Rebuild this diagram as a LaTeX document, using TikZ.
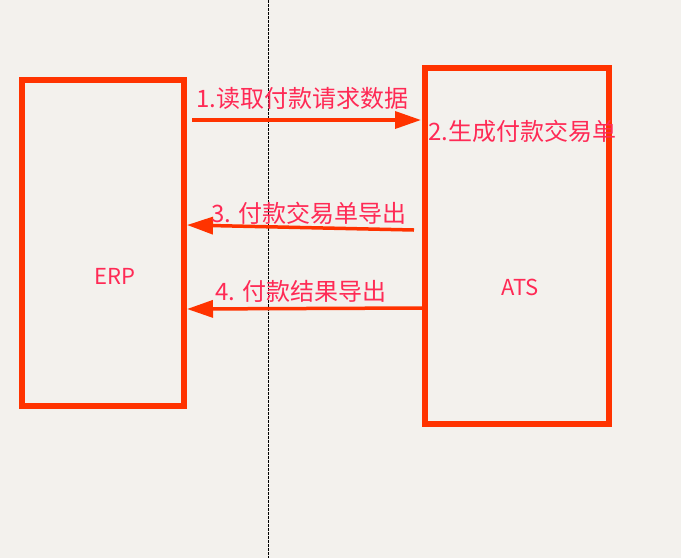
\documentclass[tikz,border=0pt]{standalone}
\usepackage{fontspec}
\setmainfont{Noto Sans CJK SC}
\usetikzlibrary{arrows.meta}
\definecolor{bg}{HTML}{F3F1ED}
\definecolor{boxred}{HTML}{FF3300}
\definecolor{txtred}{HTML}{FF2A55}
\tikzset{
  sysbox/.style={draw=boxred, line width=5.5pt, fill=none, inner sep=0pt, outer sep=0pt},
  msg/.style={draw=boxred, line width=3.5pt, -{Triangle[length=26pt,width=17pt]}},
  lbl/.style={text=txtred, font=\fontsize{24}{28}\selectfont, inner sep=0pt},
}
\begin{document}
\begin{tikzpicture}[x=1pt,y=-1pt]
\fill[bg] (0,0) rectangle (681,558);
\useasboundingbox (0,0) rectangle (681,558);
\draw[black, line width=0.8pt, dash pattern=on 2.5pt off 1.5pt] (268,0) -- (268,558);
\node[sysbox, minimum width=162pt, minimum height=326pt, anchor=north west] (erp) at (22,80) {};
\node[sysbox, minimum width=184pt, minimum height=356pt, anchor=north west] (ats) at (425,68) {};
\node[lbl, font=\fontsize{22}{26}\selectfont] at (115,276) {ERP};
\node[lbl, font=\fontsize{22}{26}\selectfont] at (520,287) {ATS};
\coordinate (a1s) at (192,120);
\coordinate (a1e) at (421,120);
\coordinate (a3s) at (414,230);
\coordinate (a3e) at (187,225);
\coordinate (a4s) at (422,308);
\coordinate (a4e) at (187,309);
\draw[msg] (a1s) -- (a1e);
\draw[msg] (a3s) -- (a3e);
\draw[msg] (a4s) -- (a4e);
\node[lbl, anchor=west] (l1) at (196,98) {1.读取付款请求数据};
\node[lbl, anchor=west] (l2) at (428,131) {2.生成付款交易单};
\node[lbl, anchor=west] (l3) at (211,213) {3. 付款交易单导出};
\node[lbl, anchor=west] (l4) at (215,291) {4. 付款结果导出};
\end{tikzpicture}
\end{document}
